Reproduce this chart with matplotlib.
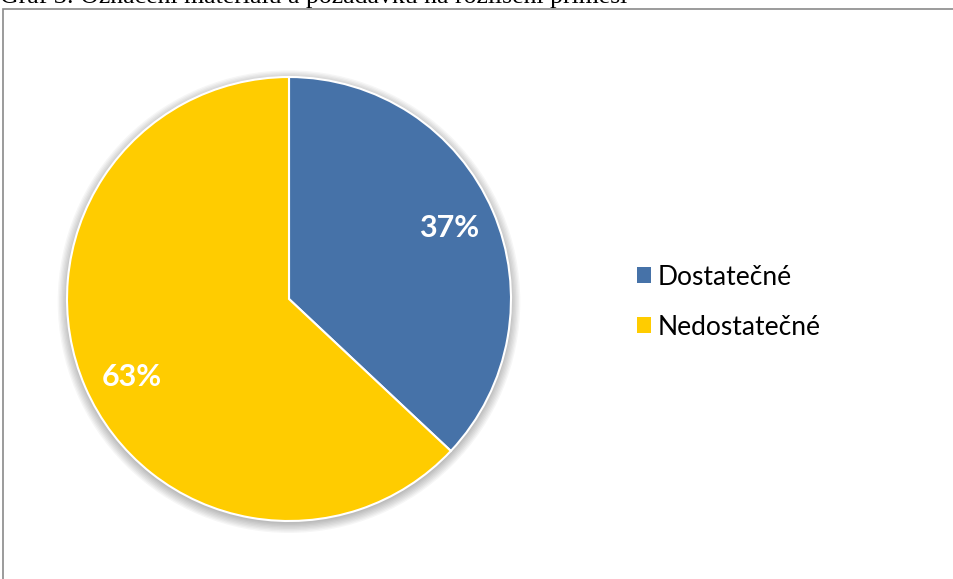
import matplotlib.pyplot as plt
from matplotlib.patches import Rectangle, Circle

# data
labels = ["Dostatečné", "Nedostatečné"]
values = [37, 63]
colors = ["#4672A8", "#FFCC00"]
caption = "Graf 3: Označení materiálu a požadavku na rozlišení příměsí"

W, H = 954, 579
fig = plt.figure(figsize=(W / 100, H / 100), dpi=100)

# frame of the chart area (cut off at right / bottom)
fig.patches.append(Rectangle((3.5 / W, -0.1), 1.2, 1 - 9.5 / H + 0.1,
                             transform=fig.transFigure, fill=False,
                             edgecolor="#8a8a8a", linewidth=1.2))

# caption, clipped at top of the image
fig.text(0, 1 - 3 / H, caption, fontsize=18.5, family="Liberation Serif",
         va="baseline", ha="left")

cx, cy, r = 289, 299, 222
ax = fig.add_axes([(cx - r) / W, (H - cy - r) / H, 2 * r / W, 2 * r / H])

wedges, texts = ax.pie(values, colors=colors, startangle=90, counterclock=False,
                       radius=1.0,
                       wedgeprops=dict(edgecolor="white", linewidth=1.5))
for w in wedges:
    w.set_zorder(2)

ax.set_xlim(-1, 1)
ax.set_ylim(-1, 1)
ax.set_aspect("equal")
ax.axis("off")

# soft shadow under the pie
for i in range(8):
    ax.add_patch(Circle((0, -0.012), 1.0 + 0.006 * i, color="black",
                        alpha=0.035, zorder=0, linewidth=0, clip_on=False))

label_pos = [(0.72, 0.32), (-0.71, -0.35)]
for v, (x, y) in zip(values, label_pos):
    ax.text(x, y, f"{v}%", color="white", fontsize=22, fontweight="bold",
            family="Lato", ha="center", va="center", zorder=3)

leg = fig.legend(wedges, labels, loc="upper left",
                 bbox_to_anchor=(626 / W, 1 - 254 / H),
                 frameon=False, prop=dict(family="Lato", size=19),
                 handlelength=0.55, handleheight=0.55, handletextpad=0.25,
                 labelspacing=0.95, borderaxespad=0)
for h in leg.legend_handles:
    h.set_edgecolor("none")

fig.savefig("out.png", dpi=100, facecolor="white")
